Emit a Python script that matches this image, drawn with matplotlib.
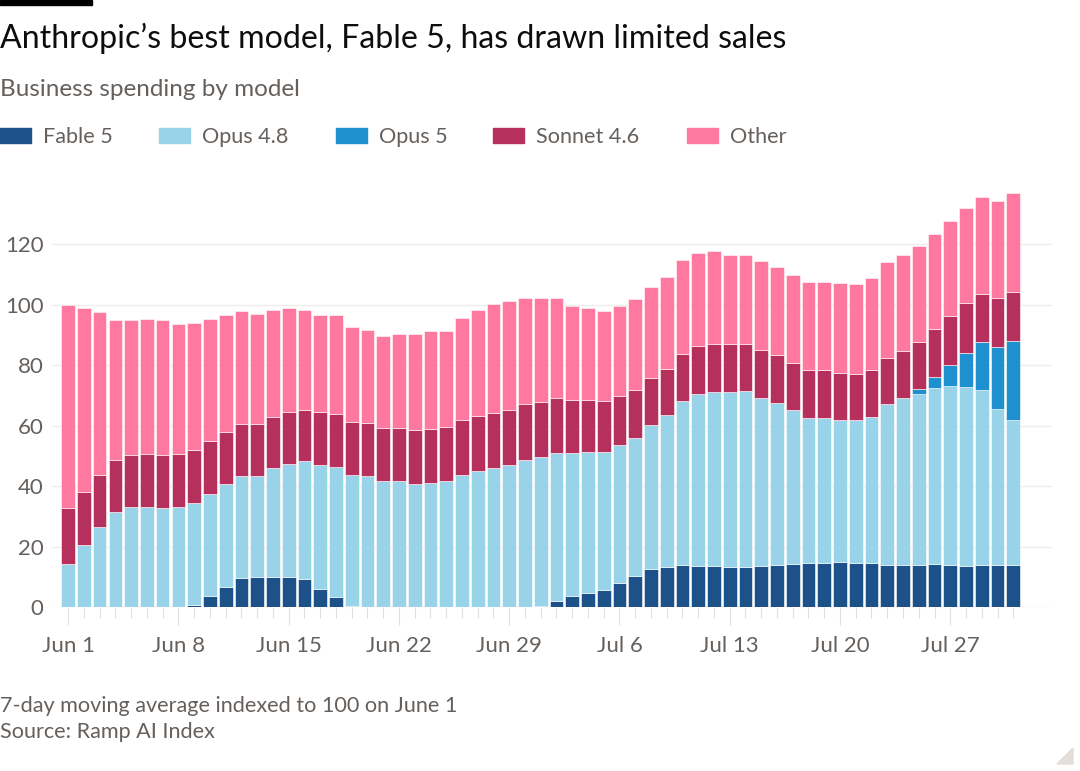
import matplotlib
matplotlib.use("Agg")
import matplotlib.pyplot as plt
from matplotlib.patches import Rectangle, Polygon
import numpy as np

plt.rcParams['font.family'] = ['Lato', 'DejaVu Sans']

# 数据: 每日 7 天移动平均 (6月1日 = 100)
days = list(range(61))  # Jun 1 .. Jul 31
tick_pos = [0, 7, 14, 21, 28, 35, 42, 49, 56]
tick_labels = ["Jun 1", "Jun 8", "Jun 15", "Jun 22", "Jun 29",
               "Jul 6", "Jul 13", "Jul 20", "Jul 27"]

fable5 = [0, 0, 0, 0, 0, 0, 0, 0, 0.7, 3.7, 6.7, 9.8, 9.9, 9.9, 9.9, 9.2,
          6.2, 3.3, 0.3, 0, 0, 0, 0, 0, 0, 0, 0, 0, 0, 0, 0.4, 2.0,
          3.6, 4.6, 5.7, 8.0, 10.3, 12.8, 13.4, 13.9, 13.8, 13.5, 13.2, 13.4, 13.6, 14.1,
          14.3, 14.6, 14.6, 14.9, 14.7, 14.5, 14.1, 14.0, 14.0, 14.3, 14.0, 13.8, 13.9, 13.9,
          13.9]
opus48 = [14.4, 20.5, 26.5, 31.5, 33.1, 33.1, 32.9, 33.2, 33.8, 33.9, 33.9, 33.5, 33.6, 36.0,
          37.4, 39.1, 40.9, 43.0, 43.4, 43.3, 41.7, 41.8, 40.9, 41.2, 41.8, 43.9, 45.1, 46.0,
          47.1, 48.6, 49.2, 49.0, 47.4, 46.9, 45.8, 45.7, 45.8, 47.6, 50.3, 54.2, 56.8, 57.6,
          58.1, 58.0, 55.7, 53.4, 50.8, 48.0, 48.1, 47.1, 47.2, 48.4, 53.0, 55.1, 56.4, 58.2,
          59.3, 59.1, 57.9, 51.8, 47.9]
opus5 = [0] * 54 + [1.8, 3.5, 6.7, 11.1, 15.8, 20.3, 26.1]
sonnet46 = [18.5, 17.7, 17.4, 17.1, 17.4, 17.7, 17.4, 17.4, 17.5, 17.3, 17.3, 17.3, 17.1, 17.1,
            17.2, 17.0, 17.4, 17.7, 17.6, 17.6, 17.5, 17.6, 17.7, 17.8, 17.7, 18.1, 18.3, 18.1,
            18.2, 18.5, 18.4, 18.1, 17.4, 17.0, 16.8, 16.3, 15.8, 15.3, 15.2, 15.5, 15.8, 15.8,
            15.6, 15.7, 15.8, 16.0, 15.8, 15.7, 15.6, 15.6, 15.2, 15.6, 15.4, 15.6, 15.5, 15.9,
            16.3, 16.6, 16.0, 16.3, 16.2]
other = [67.1, 60.9, 53.8, 46.4, 44.5, 44.6, 44.6, 43.2, 42.0, 40.3, 38.8, 37.4, 36.4, 35.3,
         34.4, 32.9, 32.2, 32.5, 31.2, 30.7, 30.6, 31.1, 31.8, 32.2, 32.0, 33.6, 34.8, 36.1,
         36.1, 35.2, 34.2, 33.2, 31.3, 30.3, 29.6, 29.7, 29.9, 30.1, 30.3, 31.1, 30.8, 30.8,
         29.7, 29.5, 29.3, 28.9, 28.8, 29.2, 29.2, 29.6, 29.9, 30.2, 31.5, 31.7, 31.6, 31.5,
         31.3, 31.4, 32.2, 31.9, 32.8]

series = [
    ("Fable 5", fable5, "#1d5189"),
    ("Opus 4.8", opus48, "#99d3ea"),
    ("Opus 5", opus5, "#1e90d0"),
    ("Sonnet 4.6", sonnet46, "#b5305d"),
    ("Other", other, "#ff789f"),
]

W, H = 1080, 771


def fx(px):
    return px / W


def fy(py):
    return 1 - py / H


fig = plt.figure(figsize=(W / 100, H / 100), dpi=100)
fig.patch.set_facecolor("white")

# 主图
y0_px, ytop_px = 607.3, 183.8
ax = fig.add_axes([fx(52), fy(y0_px), fx(1052) - fx(52), (y0_px - ytop_px) / H])

bottom = np.zeros(len(days))
for name, vals, col in series:
    vals = np.array(vals, dtype=float)
    ax.bar(days, vals, bottom=bottom, width=0.86, color=col,
           edgecolor="white", linewidth=0.4, label=name, zorder=2)
    bottom += vals

ax.set_xlim(-1.03, 62.46)
ax.set_ylim(0, 140)
ax.set_yticks(range(0, 121, 20))
ax.yaxis.grid(True, color="#efedeb", linewidth=1, zorder=0)
ax.set_axisbelow(True)
for s in ax.spines.values():
    s.set_visible(False)

ax.set_xticks(tick_pos)
ax.set_xticklabels(tick_labels)
ax.set_xticks(days, minor=True)
ax.tick_params(axis="x", which="major", length=13, width=0.8, color="#e3dfdb",
               pad=7.5, labelsize=16, labelcolor="#66605c")
ax.tick_params(axis="x", which="minor", length=8, width=0.8, color="#e3dfdb")
ax.tick_params(axis="y", length=0, pad=6, labelsize=16, labelcolor="#66605c")

# 标题等文字
fig.patches.append(Rectangle((0, fy(5)), fx(92), 5 / H, transform=fig.transFigure,
                             color="black", zorder=5))
fig.text(0, fy(48), "Anthropic\u2019s best model, Fable 5, has drawn limited sales",
         fontsize=23.1, color="#0d0d0d", va="baseline", ha="left")
fig.text(0, fy(96.5), "Business spending by model", fontsize=17.5,
         color="#66605c", va="baseline", ha="left")

# 图例
legend_x = [0, 159, 336, 493, 687]
for (name, vals, col), lx in zip(series, legend_x):
    fig.patches.append(Rectangle((fx(lx), fy(143)), fx(31), 15 / H,
                                 transform=fig.transFigure, color=col))
    fig.text(fx(lx + 43), fy(143), name, fontsize=15.6, color="#66605c",
             va="baseline", ha="left")

# 脚注
fig.text(0, fy(711.5), "7-day moving average indexed to 100 on June 1", fontsize=15.6,
         color="#66605c", va="baseline", ha="left")
fig.text(0, fy(738.3), "Source: Ramp AI Index", fontsize=15.6,
         color="#66605c", va="baseline", ha="left")

# 右下角小三角
fig.patches.append(Polygon([(fx(1057), fy(764)), (fx(1073), fy(748)), (fx(1073), fy(764))],
                           closed=True, transform=fig.transFigure, color="#e2dedb"))

fig.savefig("out.png", dpi=100, facecolor="white")
